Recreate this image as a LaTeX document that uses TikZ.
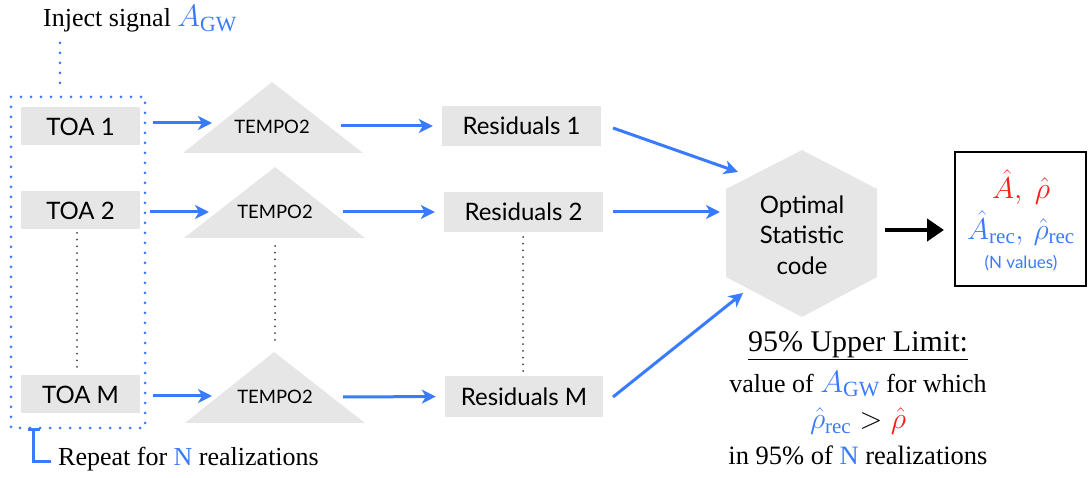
\RequirePackage{fix-cm}
\documentclass[tikz,border=0pt]{standalone}
\usepackage{fontspec}
\setmainfont{Liberation Serif}
\newfontfamily\gill{Lato}
\usetikzlibrary{arrows.meta}
\definecolor{bl}{HTML}{3A7AFF}
\definecolor{rd}{HTML}{FF1A1A}
\definecolor{gfill}{HTML}{E6E6E6}
\newcommand{\bigmath}[1]{{\fontsize{31}{31}\selectfont$#1$}}
\tikzset{
  x=1pt,y=-1pt,
  gbox/.style={fill=gfill,inner sep=0pt,font=\gill\fontsize{24}{28}\selectfont},
  tempo/.style={font=\gill\fontsize{18.5}{22}\selectfont,inner sep=0pt},
  barrow/.style={draw=bl,line width=3pt,-{Stealth[length=14pt,width=14pt,inset=4pt]}},
  karrow/.style={draw=black,line width=4.5pt,-{Triangle[length=17pt,width=22pt]}},
  bdots/.style={draw=bl,line width=3pt,line cap=round,dash pattern=on 0pt off 10pt},
  kdots/.style={draw=black!75,line width=2pt,line cap=round,dash pattern=on 0pt off 6.7pt},
  serif/.style={font=\fontsize{26}{30}\selectfont,inner sep=0pt},
}
\begin{document}
\begin{tikzpicture}
\useasboundingbox (0,0) rectangle (1088,478);
% injection label
\node[serif,anchor=west] (inj) at (43,19) {Inject signal \textcolor{bl}{\bigmath{A_{\mathrm{GW}}}}};
\coordinate (injtop) at (60,43);
\coordinate (injbot) at (60,88);
\draw[bdots] (injtop) -- (injbot);
% blue dotted frame
\draw[bdots] (11,97) rectangle (145,428);
% TOA boxes
\node[gbox,minimum width=119pt,minimum height=38pt] (toa1) at (80.5,126.5) {TOA 1};
\node[gbox,minimum width=119pt,minimum height=38pt] (toa2) at (80.5,210.5) {TOA 2};
\node[gbox,minimum width=119pt,minimum height=38pt] (toam) at (80.5,394.5) {TOA M};
\draw[kdots] (77,233) -- (77,368);
% TEMPO2 triangles
\fill[gfill] (272,82) -- (363,153) -- (183,153) -- cycle;
\fill[gfill] (275,167) -- (365,238) -- (184,238) -- cycle;
\fill[gfill] (274,352) -- (365,423) -- (185,423) -- cycle;
\node[tempo] (t1) at (272,127) {TEMPO2};
\node[tempo] (t2) at (275,212) {TEMPO2};
\node[tempo] (tm) at (275,397) {TEMPO2};
\draw[kdots] (275,246) -- (275,345);
% Residuals
\node[gbox,minimum width=159pt,minimum height=40pt] (r1) at (521.5,126) {Residuals 1};
\node[gbox,minimum width=159pt,minimum height=40pt] (r2) at (523.5,212) {Residuals 2};
\node[gbox,minimum width=158pt,minimum height=41pt] (rm) at (524,396.5) {Residuals M};
\draw[kdots] (523,237) -- (523,375);
% arrows TOA -> TEMPO2
\coordinate (a1s) at (153,123); \coordinate (a1e) at (212,123);
\coordinate (a2s) at (150,212); \coordinate (a2e) at (209,212);
\coordinate (ams) at (153,396); \coordinate (ame) at (212,396);
\draw[barrow] (a1s) -- (a1e);
\draw[barrow] (a2s) -- (a2e);
\draw[barrow] (ams) -- (ame);
% arrows TEMPO2 -> Residuals
\coordinate (b1s) at (341,126); \coordinate (b2s) at (343,212); \coordinate (bms) at (343,397);
\draw[barrow,shorten >=9pt] (b1s) -- (r1.west);
\draw[barrow,shorten >=9pt] (b2s) -- (r2.west);
\draw[barrow,shorten >=9pt] (bms) -- (rm.west);
% hexagon
\fill[gfill] (802,150) -- (877,189) -- (877,277) -- (802,317) -- (726,277) -- (726,189) -- cycle;
\node[font=\gill\fontsize{24}{30.5}\selectfont,align=center,inner sep=0pt] (os) at (802,235) {Optimal\\Statistic\\code};
\coordinate (h1) at (738,172); \coordinate (h2) at (720,212); \coordinate (hm) at (743,293);
\coordinate (c1) at (613,128); \coordinate (c2) at (613,212); \coordinate (cm) at (613,397);
\draw[barrow] (c1) -- (h1);
\draw[barrow] (c2) -- (h2);
\draw[barrow] (cm) -- (hm);
% result box
\draw[black,line width=2pt] (955,152) rectangle (1086,286);
\coordinate (ks) at (885,230);
\coordinate (ke) at (944,230);
\draw[karrow] (ks) -- (ke);
\node[inner sep=0pt,font=\fontsize{30}{30}\selectfont,text=rd] (rv1) at (1021,187) {$\hat{A},\ \hat{\rho}$};
\node[inner sep=0pt,font=\fontsize{30}{30}\selectfont,text=bl] (rv2) at (1021,228) {$\hat{A}_{\mathrm{rec}},\,\hat{\rho}_{\mathrm{rec}}$};
\node[inner sep=0pt,font=\gill\fontsize{17}{20}\selectfont,text=bl] (rv3) at (1021,263) {(N values)};
% upper limit text
\node[inner sep=0pt,font=\fontsize{30}{34}\selectfont] (ul) at (858,346) {\underline{95\% Upper Limit:}};
\node[inner sep=0pt,font=\fontsize{26}{30}\selectfont] (ul2) at (858,384) {value of \textcolor{bl}{\bigmath{A_{\mathrm{GW}}}} for which};
\node[inner sep=0pt,font=\fontsize{30}{30}\selectfont] (ul3) at (858,421) {\textcolor{bl}{$\hat{\rho}_{\mathrm{rec}}$}${}>{}$\textcolor{rd}{$\hat{\rho}$}};
\node[inner sep=0pt,font=\fontsize{26.5}{30}\selectfont] (ul4) at (858,455) {in 95\% of \textcolor{bl}{N} realizations};
% repeat bracket
\coordinate (brt) at (33,430); \coordinate (brb) at (33,462); \coordinate (bre) at (51,462);
\draw[draw=bl,line width=3pt] (28,430) -- (40,430);
\draw[draw=bl,line width=3pt] (brt) -- (brb) -- (bre);
\node[serif,anchor=west] (rep) at (58,459) {Repeat for \textcolor{bl}{N} realizations};
\end{tikzpicture}
\end{document}
